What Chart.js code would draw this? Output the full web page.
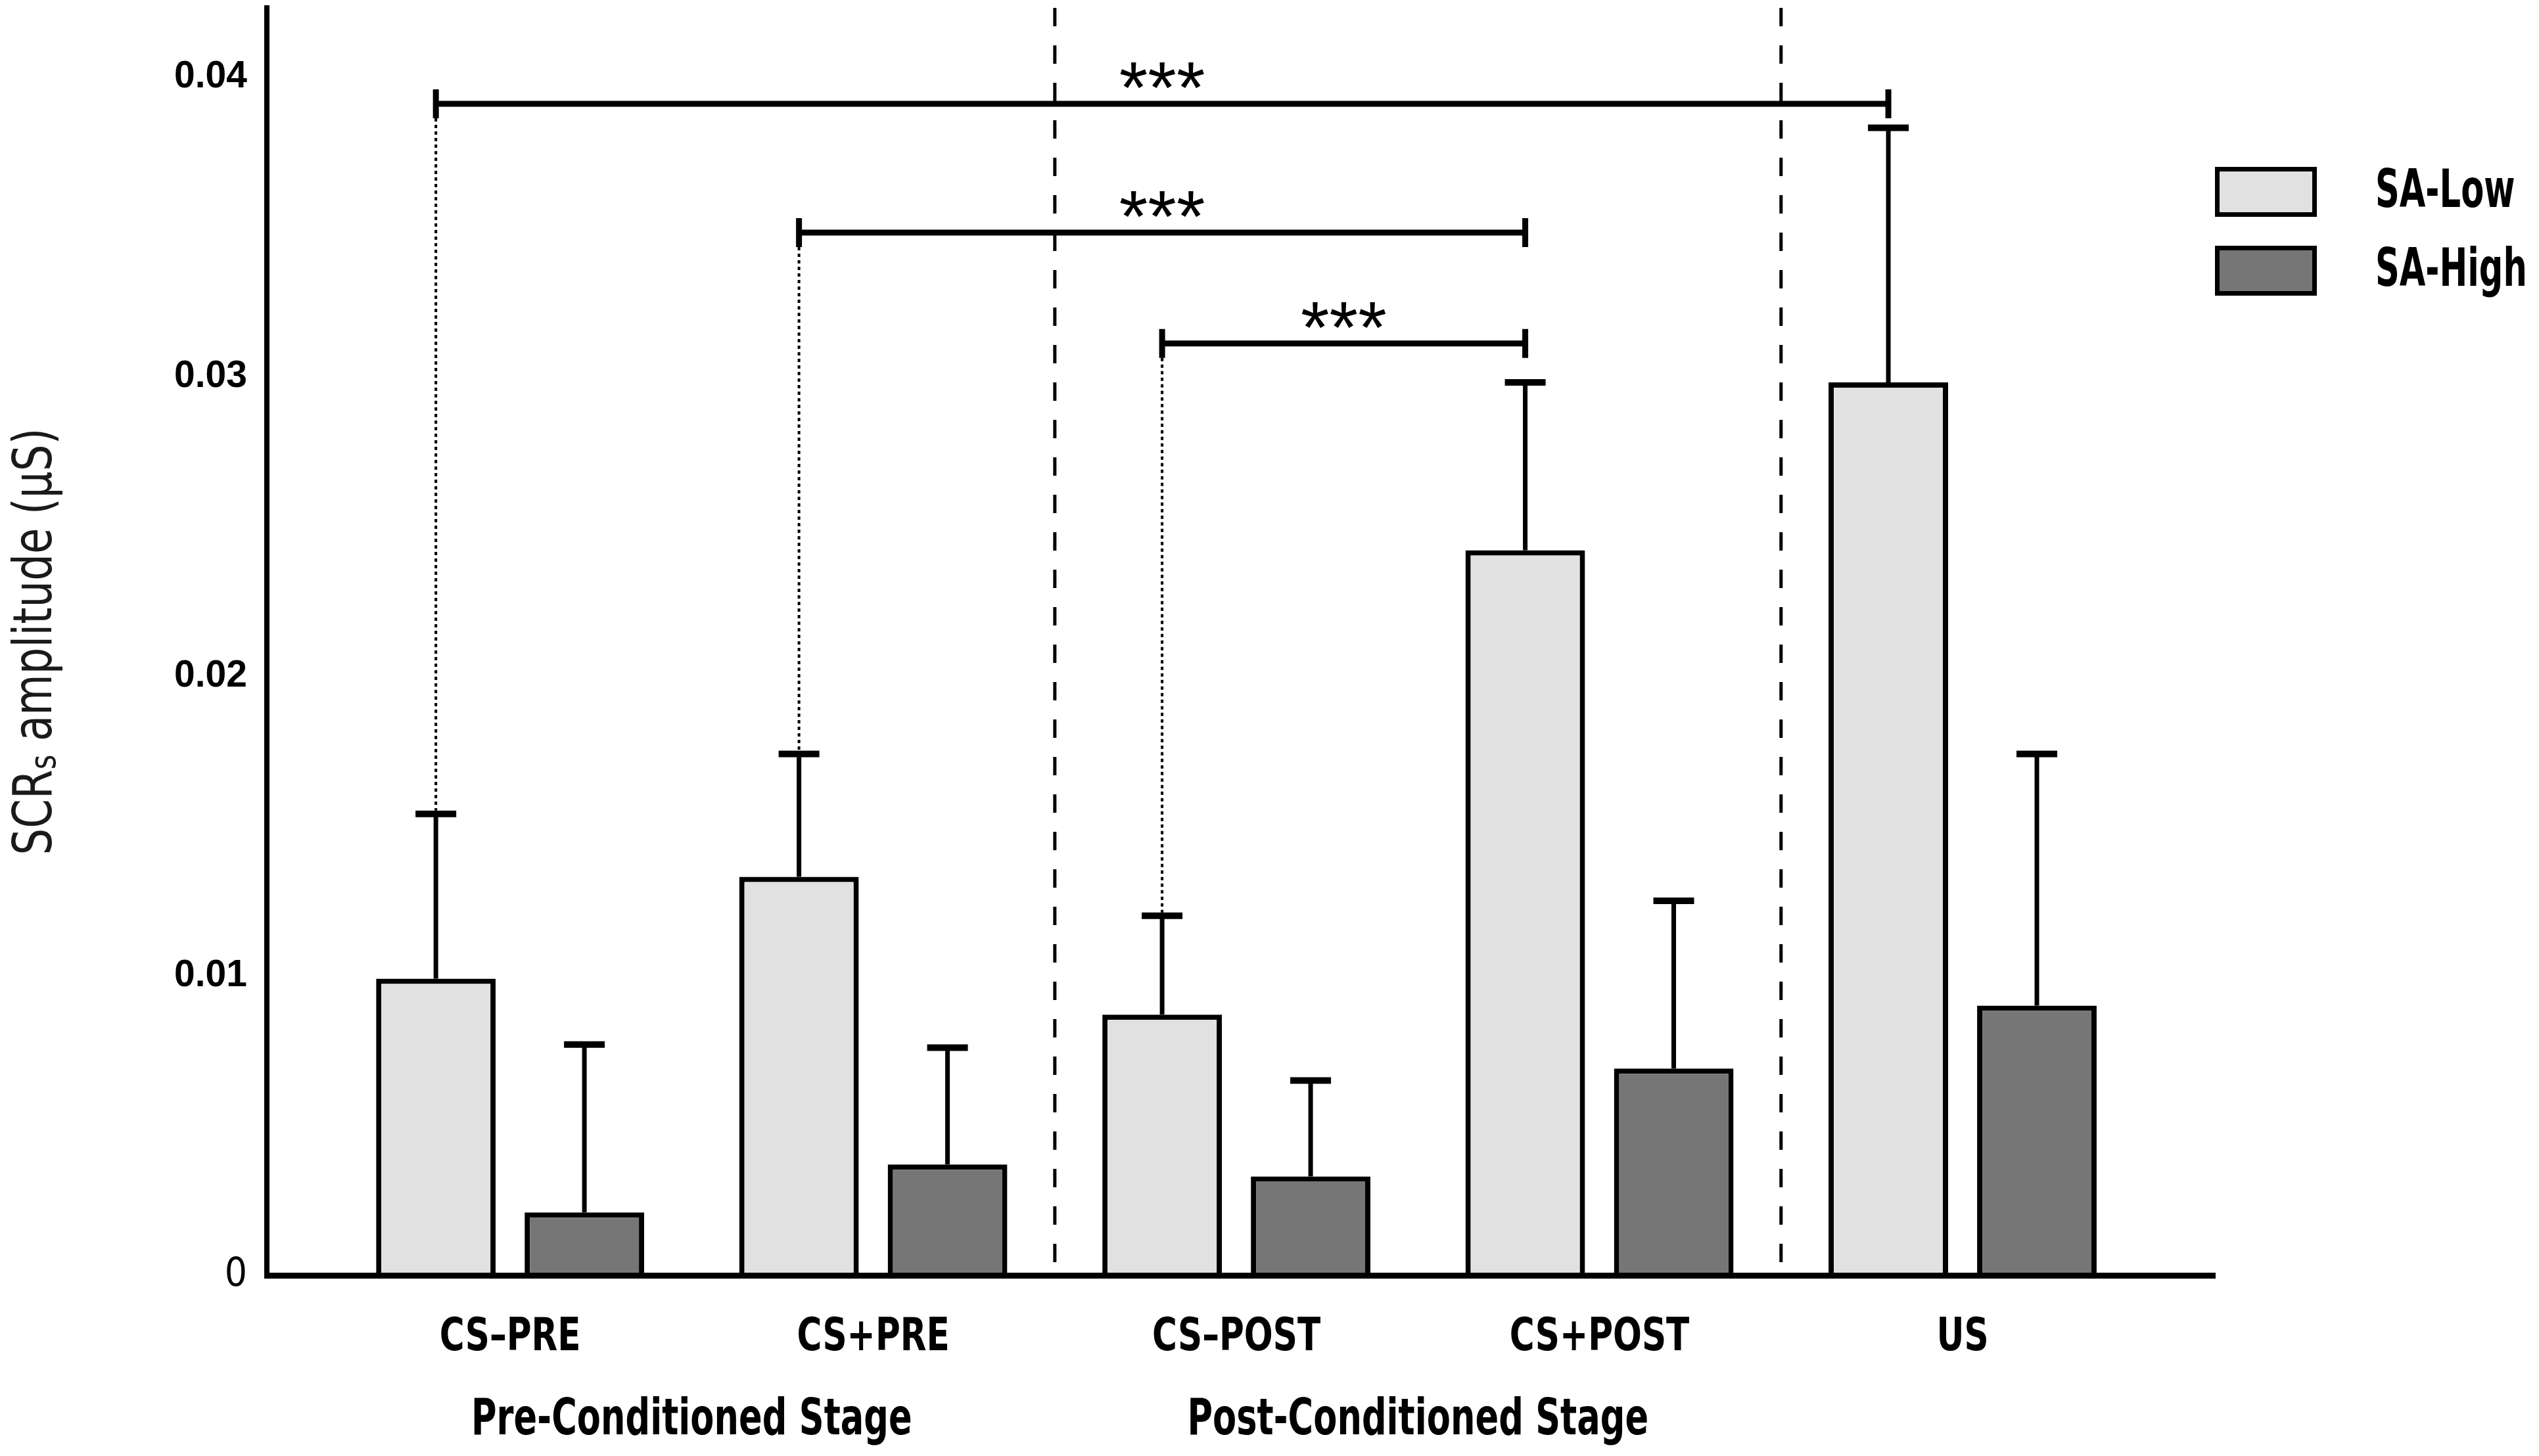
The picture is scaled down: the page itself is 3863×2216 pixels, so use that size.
<!DOCTYPE html>
<html>
<head>
<meta charset="utf-8">
<script src="https://cdn.jsdelivr.net/npm/chart.js@4.4.1/dist/chart.umd.min.js"></script>
<style>
  html, body { margin: 0; padding: 0; background: #fff; overflow: hidden; }
  #wrap { width: 3863px; height: 2216px; }
</style>
</head>
<body>
<div id="wrap"><canvas id="chart"></canvas></div>
<script>
// data
const categories = ['CS\u2013PRE', 'CS+PRE', 'CS\u2013POST', 'CS+POST', 'US'];
const seriesNames = ['SA-Low', 'SA-High'];
const lowValues = [0.0099, 0.0133, 0.0087, 0.0242, 0.0298];
const lowErrors = [0.0055, 0.0041, 0.0033, 0.0056, 0.0085];
const highValues = [0.0021, 0.0037, 0.0033, 0.0069, 0.0090];
const highErrors = [0.0056, 0.0039, 0.0032, 0.0056, 0.0084];
const yTicks = [0, 0.01, 0.02, 0.03, 0.04];
const stageNames = ['Pre-Conditioned Stage', 'Post-Conditioned Stage'];
const stageSpans = [[0, 1], [2, 3]];
const stageDividers = [1.5, 3.5];
const sigPairs = [[0, 4], [1, 3], [2, 3]];
const sigLevels = [0.0391, 0.0348, 0.0311];
const sigMarks = ['***', '***', '***'];

const NARROW = '"Liberation Sans Narrow", "DejaVu Sans Condensed", "Liberation Sans", sans-serif';
const SANS = '"Liberation Sans", Arial, sans-serif';
const fills = ['#e1e1e1', '#767676'];
const SQUEEZE = 0.82; // the figure uses a condensed face

function toPoints(values) {
    return values.map((v, i) => ({ x: i, y: v }));
}

function narrowText(ctx, text, x, y, factor) {
    ctx.fillText(text, x, y, ctx.measureText(text).width * factor);
}

const overlay = {
    id: 'overlay',
    beforeDatasetsDraw(chart) {
        const { ctx, chartArea, scales: { x } } = chart;
        ctx.save();
        ctx.strokeStyle = '#000';
        ctx.lineWidth = 5;
        ctx.setLineDash([28, 29]);
        stageDividers.forEach(d => {
            const px = x.getPixelForValue(d);
            ctx.beginPath();
            ctx.moveTo(px, chartArea.top);
            ctx.lineTo(px, chartArea.bottom);
            ctx.stroke();
        });
        ctx.restore();
    },
    afterDatasetsDraw(chart) {
        const { ctx, scales: { y } } = chart;
        const errs = [lowErrors, highErrors];
        const vals = [lowValues, highValues];
        ctx.save();
        ctx.strokeStyle = '#000';
        ctx.lineCap = 'butt';

        // error bars, upper half only
        [0, 1].forEach(d => {
            const meta = chart.getDatasetMeta(d);
            meta.data.forEach((bar, i) => {
                const top = y.getPixelForValue(vals[d][i]);
                const end = y.getPixelForValue(vals[d][i] + errs[d][i]);
                ctx.lineWidth = 7;
                ctx.beginPath();
                ctx.moveTo(bar.x, top);
                ctx.lineTo(bar.x, end);
                ctx.stroke();
                ctx.lineWidth = 10;
                ctx.beginPath();
                ctx.moveTo(bar.x - 31, end);
                ctx.lineTo(bar.x + 31, end);
                ctx.stroke();
            });
        });

        // significance brackets
        const lowMeta = chart.getDatasetMeta(0);
        sigPairs.forEach(([a, b], k) => {
            const x1 = lowMeta.data[a].x;
            const x2 = lowMeta.data[b].x;
            const yy = y.getPixelForValue(sigLevels[k]);
            ctx.setLineDash([]);
            ctx.lineWidth = 9;
            ctx.beginPath();
            ctx.moveTo(x1, yy);
            ctx.lineTo(x2, yy);
            ctx.moveTo(x1, yy - 22);
            ctx.lineTo(x1, yy + 22);
            ctx.moveTo(x2, yy - 22);
            ctx.lineTo(x2, yy + 22);
            ctx.stroke();

            const capY = y.getPixelForValue(lowValues[a] + lowErrors[a]);
            ctx.lineWidth = 4;
            ctx.setLineDash([5, 5]);
            ctx.beginPath();
            ctx.moveTo(x1, yy + 22);
            ctx.lineTo(x1, capY - 5);
            ctx.stroke();

            ctx.fillStyle = '#000';
            ctx.font = '112px ' + SANS;
            ctx.textAlign = 'center';
            ctx.textBaseline = 'alphabetic';
            ctx.fillText(sigMarks[k], (x1 + x2) / 2, yy + 14);
        });
        ctx.restore();
    },
    afterDraw(chart) {
        const { ctx, chartArea, scales: { x } } = chart;
        ctx.save();
        ctx.fillStyle = '#000';
        ctx.textAlign = 'center';
        ctx.textBaseline = 'middle';

        // category labels
        ctx.font = 'bold 70px ' + NARROW;
        categories.forEach((c, i) => {
            narrowText(ctx, c, x.getPixelForValue(i), chartArea.bottom + 96, SQUEEZE);
        });

        // stage labels under the categories
        ctx.font = 'bold 76px ' + NARROW;
        stageNames.forEach((name, k) => {
            const [a, b] = stageSpans[k];
            const cx = (x.getPixelForValue(a) + x.getPixelForValue(b)) / 2;
            narrowText(ctx, name, cx, chartArea.bottom + 222, 0.77);
        });

        // y axis title, small s after SCR
        const cy = (chartArea.top + chartArea.bottom) / 2;
        const big = '82px ' + NARROW;
        const small = '56px ' + NARROW;
        const parts = [['SCR', big, 0], ['s', small, 6], [' amplitude (\u03bcS)', big, 0]];
        let total = 0;
        parts.forEach(p => { ctx.font = p[1]; total += ctx.measureText(p[0]).width; });
        const f = 650 / total;
        ctx.translate(78, cy);
        ctx.rotate(-Math.PI / 2);
        ctx.textAlign = 'left';
        ctx.textBaseline = 'alphabetic';
        ctx.fillStyle = '#1a1a1a';
        let cursor = -650 / 2;
        parts.forEach(p => {
            ctx.font = p[1];
            const w = ctx.measureText(p[0]).width * f;
            ctx.fillText(p[0], cursor, p[2], w);
            cursor += w;
        });
        ctx.setTransform(1, 0, 0, 1, 0, 0);

        // legend
        const left = chartArea.right;
        const tops = [chartArea.top + 242, chartArea.top + 362];
        seriesNames.forEach((name, k) => {
            ctx.fillStyle = fills[k];
            ctx.fillRect(left + 3, tops[k] + 3, 149, 70);
            ctx.strokeStyle = '#000';
            ctx.lineWidth = 7;
            ctx.strokeRect(left + 3.5, tops[k] + 3.5, 148, 69);
            ctx.fillStyle = '#000';
            ctx.font = 'bold 80px ' + NARROW;
            ctx.textAlign = 'left';
            ctx.textBaseline = 'middle';
            narrowText(ctx, name, left + 244, tops[k] + 40, 0.71);
        });
        ctx.restore();
    }
};

function renderChart() {
    const ctx = document.getElementById('chart').getContext('2d');
    const chart = new Chart(ctx, {
        type: 'bar',
        data: {
            datasets: [
                {
                    label: seriesNames[0],
                    data: toPoints(lowValues),
                    backgroundColor: fills[0],
                    borderColor: '#000',
                    borderWidth: 8
                },
                {
                    label: seriesNames[1],
                    data: toPoints(highValues),
                    backgroundColor: fills[1],
                    borderColor: '#000',
                    borderWidth: 8
                }
            ]
        },
        options: {
            responsive: true,
            maintainAspectRatio: false,
            devicePixelRatio: 1,
            animation: false,
            categoryPercentage: 0.818,
            barPercentage: 0.805,
            layout: { padding: { top: 12, right: 493, left: 0, bottom: 0 } },
            plugins: {
                legend: { display: false },
                tooltip: { enabled: false }
            },
            scales: {
                x: {
                    type: 'linear',
                    min: -0.67,
                    max: 4.695,
                    offset: false,
                    grid: { display: false, drawTicks: false },
                    border: { display: true, color: '#000', width: 9, z: 1 },
                    afterBuildTicks(scale) {
                        scale.ticks = categories.map((c, i) => ({ value: i }));
                    },
                    afterFit(scale) {
                        scale.height = 275;
                        scale.paddingLeft = 0;
                        scale.paddingRight = 0;
                    },
                    ticks: { display: false }
                },
                y: {
                    min: 0,
                    max: 0.0423,
                    grid: { display: false, drawTicks: false },
                    border: { display: true, color: '#000', width: 8, z: 1 },
                    afterBuildTicks(scale) {
                        scale.ticks = yTicks.map(v => ({ value: v }));
                    },
                    afterFit(scale) {
                        scale.width = 406;
                        scale.paddingTop = 0;
                        scale.paddingBottom = 0;
                    },
                    ticks: {
                        padding: 30,
                        color: '#000',
                        font: (c) => (c.tick && c.tick.value === 0)
                            ? { family: NARROW, size: 60, weight: 'normal' }
                            : { family: SANS, size: 57, weight: 'bold' },
                        callback: (v) => v === 0 ? '0' : v.toFixed(2)
                    }
                }
            }
        },
        plugins: [overlay]
    });
}

renderChart();
</script>
</body>
</html>
